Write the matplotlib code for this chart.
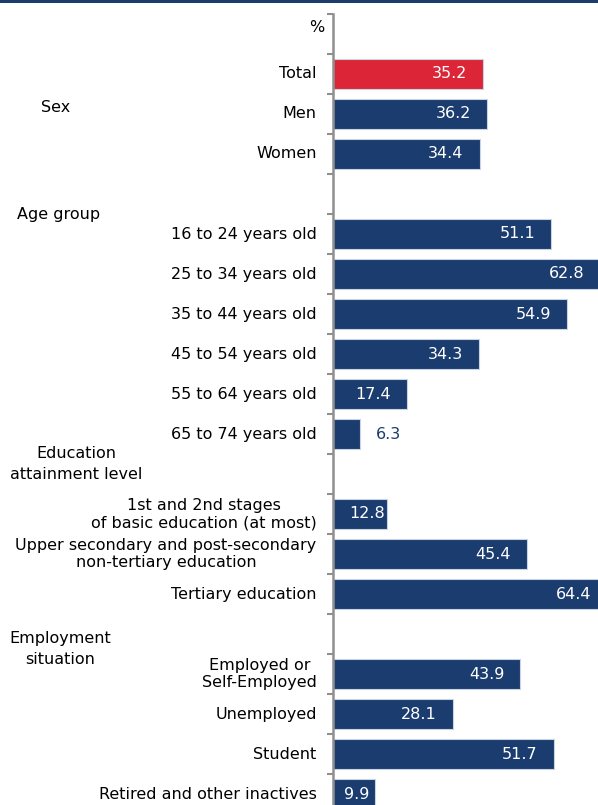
import matplotlib
matplotlib.use("Agg")
import matplotlib.pyplot as plt
from matplotlib.patches import Rectangle
from matplotlib.transforms import blended_transform_factory, offset_copy

plt.rcParams['font.family'] = ['DejaVu Sans']

# data
labels = ["Total", "Men", "Women", "",
          "16 to 24 years old", "25 to 34 years old", "35 to 44 years old",
          "45 to 54 years old", "55 to 64 years old", "65 to 74 years old", "",
          "1st and 2nd stages\nof basic education (at most)",
          "Upper secondary and post-secondary\nnon-tertiary education",
          "Tertiary education", "",
          "Employed or\nSelf-Employed", "Unemployed", "Student",
          "Retired and other inactives"]
values = [35.2, 36.2, 34.4, None,
          51.1, 62.8, 54.9, 34.3, 17.4, 6.3, None,
          12.8, 45.4, 64.4, None,
          43.9, 28.1, 51.7, 9.9]
groups = ["Sex", "Age group", "Education\nattainment level", "Employment\nsituation"]

NAVY = "#1b3c6e"
RED = "#dc2638"
GREY = "#8f8f8f"
FS = 11.5

W, H = 598, 805
fig = plt.figure(figsize=(W / 100, H / 100), dpi=100)
x0 = 332.7
ax = fig.add_axes([x0 / W, 0, 1 - x0 / W, (H - 14) / H])

rows = [i for i, v in enumerate(values) if v is not None]
vals = [values[i] for i in rows]
colors = [RED if i == 0 else NAVY for i in rows]
ax.barh(rows, vals, height=0.735, color=colors, edgecolor="#c9d3e3", linewidth=0.8)

ax.set_xlim(0, 62.1)
ax.set_ylim(18.275, -1.5)

# value labels: offset in px from the bar end
label_dx = {9: 16, 11: -2, 18: -6}
for i in rows:
    v = values[i]
    dx = label_dx.get(i, -16)
    outside = dx > 0
    tr = offset_copy(ax.transData, fig=fig, x=dx, y=0, units='dots')
    ax.text(v, i, f"{v:.1f}", transform=tr, ha='left' if outside else 'right',
            va='center', fontsize=FS, color=NAVY if outside else 'white')

# category labels to the left of the axis
tl = offset_copy(blended_transform_factory(ax.transAxes, ax.transData),
                 fig=fig, x=-16, y=0, units='dots')
for i, lab in enumerate(labels):
    if lab:
        ax.text(0, i, lab, transform=tl, ha='right', va='center',
                multialignment='center', fontsize=FS, color='black',
                linespacing=1.2)

# axis styling
ax.set_yticks([k - 0.5 for k in range(-1, 19)])
ax.set_yticklabels([])
ax.tick_params(axis='y', length=4, width=1.5, color=GREY, direction='out')
ax.set_xticks([])
for s in ['top', 'right', 'bottom']:
    ax.spines[s].set_visible(False)
ax.spines['left'].set_color(GREY)
ax.spines['left'].set_linewidth(1.8)

# group headings
fig.text(41 / W, 1 - 108 / H, groups[0], ha='left', va='center', fontsize=FS)
fig.text(17 / W, 1 - 214 / H, groups[1], ha='left', va='center', fontsize=FS)
fig.text(76 / W, 1 - 464 / H, groups[2], ha='center', va='center',
         fontsize=FS, linespacing=1.5)
fig.text(60 / W, 1 - 649 / H, groups[3], ha='center', va='center',
         fontsize=FS, linespacing=1.5)
fig.text(324 / W, 1 - 27 / H, "%", ha='right', va='center', fontsize=FS)

# top band
fig.add_artist(Rectangle((0, 1 - 3.5 / H), 1, 3.5 / H, transform=fig.transFigure,
                         color=NAVY, lw=0))

fig.savefig("out.png", dpi=100)
